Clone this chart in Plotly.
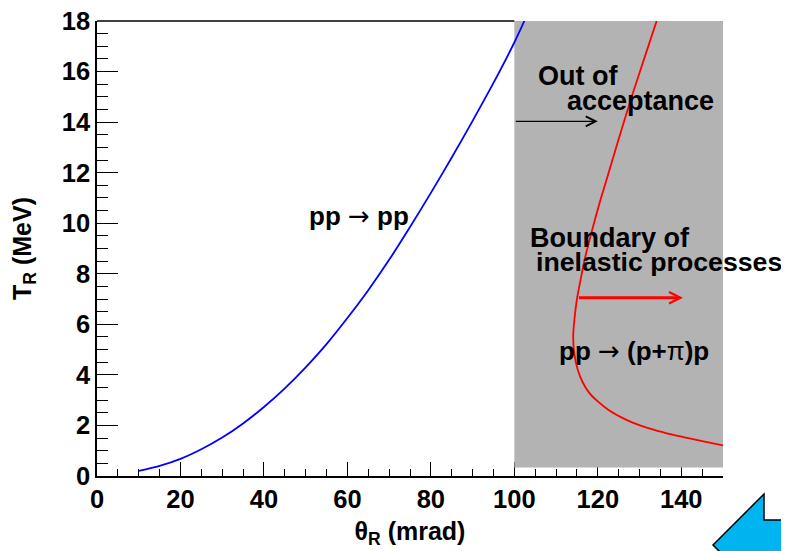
import plotly.graph_objects as go

# ---- data ----
theta_elastic = [10, 15, 20, 25, 30, 35, 40, 45, 50, 55, 60, 65, 70, 75, 80, 85, 90, 95, 100, 102.4]
T_elastic = [0.2, 0.4, 0.68, 1.06, 1.52, 2.08, 2.73, 3.47, 4.3, 5.22, 6.25, 7.35, 8.55, 9.85, 11.2, 12.6, 14.05, 15.55, 17.15, 18.0]

theta_inelastic = [134.1, 131.5, 128.9, 126.8, 124.4, 122.6, 120.6, 118.6, 116.9, 115.8, 115.0, 114.4,
                   114.1, 114.4, 115.2, 116.4, 118.0, 120.0, 122.5, 125.3, 128.5, 132.5, 136.5, 140.5, 145.0, 150.0]
T_inelastic = [18.0, 16.7, 15.4, 14.3, 13.0, 12.0, 10.9, 9.7, 8.6, 7.7, 7.0, 6.2,
               5.5, 4.8, 4.2, 3.7, 3.28, 2.95, 2.62, 2.35, 2.1, 1.87, 1.69, 1.54, 1.38, 1.21]

accept_theta = [100, 150]      # out-of-acceptance band (mrad)
accept_T = [0.34, 18]          # band vertical extent (MeV)

x_range = [0, 150]
y_range = [0, 18]

FONT = "Liberation Sans, Arial, sans-serif"

fig = go.Figure()

# gray out-of-acceptance band
fig.add_trace(go.Scatter(
    x=[accept_theta[0], accept_theta[1], accept_theta[1], accept_theta[0], accept_theta[0]],
    y=[accept_T[0], accept_T[0], accept_T[1], accept_T[1], accept_T[0]],
    fill="toself", fillcolor="#b3b3b3", mode="lines", line=dict(width=0),
    hoverinfo="skip", showlegend=False))

fig.add_trace(go.Scatter(x=theta_elastic, y=T_elastic, mode="lines",
                         line=dict(color="#0000ff", width=1.8, shape="spline", smoothing=0.8),
                         showlegend=False))
fig.add_trace(go.Scatter(x=theta_inelastic, y=T_inelastic, mode="lines",
                         line=dict(color="#ff0000", width=1.8, shape="spline", smoothing=0.8),
                         showlegend=False))

# top frame line (left of the band)
fig.add_shape(type="line", x0=x_range[0], x1=accept_theta[0], y0=1, y1=1,
              xref="x", yref="paper", line=dict(color="black", width=1.6), layer="above")

ann_font = dict(family=FONT, size=27, color="black", weight="bold")
arrow_span = '<span style="font-family:\'DejaVu Sans\';font-weight:normal">\u2192</span>'
pi_span = '<span style="font-weight:normal">\u03c0</span>'
texts = [
    ("pp " + arrow_span + " pp", 50.2, 10.3, 26),
    ("Out of", 105.2, 15.83, 27),
    ("acceptance", 112.1, 14.84, 27),
    ("Boundary of", 103.3, 9.43, 27),
    ("inelastic processes", 104.8, 8.45, 26.7),
    ("pp " + arrow_span + " (p+" + pi_span + ")p", 110.2, 4.96, 26),
]
for t, x, y, s in texts:
    f = dict(ann_font)
    f["size"] = s
    fig.add_annotation(text=t, x=x, y=y, xref="x", yref="y", xanchor="left", yanchor="middle",
                       showarrow=False, font=f)

# arrows
fig.add_annotation(x=120, y=14.03, ax=100, ay=14.03, xref="x", yref="y", axref="x", ayref="y",
                   text="", showarrow=True, arrowhead=5, arrowsize=1.5, arrowwidth=1.3,
                   arrowcolor="black", standoff=0, startstandoff=0)
fig.add_annotation(x=140.4, y=7.05, ax=115.1, ay=7.05, xref="x", yref="y", axref="x", ayref="y",
                   text="", showarrow=True, arrowhead=5, arrowsize=0.75, arrowwidth=3,
                   arrowcolor="#ff0000", standoff=0, startstandoff=0)

# decorative cyan arrow in bottom-right corner (paper coordinates, from page pixels)
L, R, T, B = 97, 723, 21, 476
def px(xp, yp):
    return (xp - L) / (R - L), (B - yp) / (B - T)
pts = [(713, 545), (764, 494), (764, 520), (830, 520), (830, 570), (764, 570), (764, 596)]
path = "M " + " L ".join("%.4f,%.4f" % px(a, b) for a, b in pts) + " Z"
fig.add_shape(type="path", path=path, xref="paper", yref="paper",
              fillcolor="#00b4f0", line=dict(color="black", width=1.5), layer="above")

axis_common = dict(showgrid=False, zeroline=False, showline=True, linecolor="black", linewidth=1.6,
                   ticks="inside", tickcolor="black", tickwidth=1.3, mirror=False,
                   layer="below traces", automargin=False, ticklabeloverflow="allow",
                   tickfont=dict(family=FONT, size=25.5, color="black", weight="bold"))

fig.update_xaxes(range=x_range, dtick=20, tick0=0, ticklen=14,
                 minor=dict(dtick=5, ticklen=7, ticks="inside", tickcolor="black", tickwidth=1.3),
                 title=dict(text="\u03b8<sub>R</sub> (mrad)", standoff=10,
                            font=dict(family=FONT, size=25, color="black", weight="bold")),
                 **axis_common)
fig.update_yaxes(range=y_range, dtick=2, tick0=0, ticklen=21,
                 minor=dict(dtick=0.5, ticklen=11, ticks="inside", tickcolor="black", tickwidth=1.3),
                 title=dict(text="T<sub>R</sub> (MeV)", standoff=24,
                            font=dict(family=FONT, size=25, color="black", weight="bold")),
                 **axis_common)

# the page body adds an 8px offset, so the figure is 8px smaller and margins shifted
fig.update_layout(width=781, height=543, margin=dict(l=89, r=66, t=13, b=75),
                  plot_bgcolor="white", paper_bgcolor="white", showlegend=False)

fig.write_html("out.html")
